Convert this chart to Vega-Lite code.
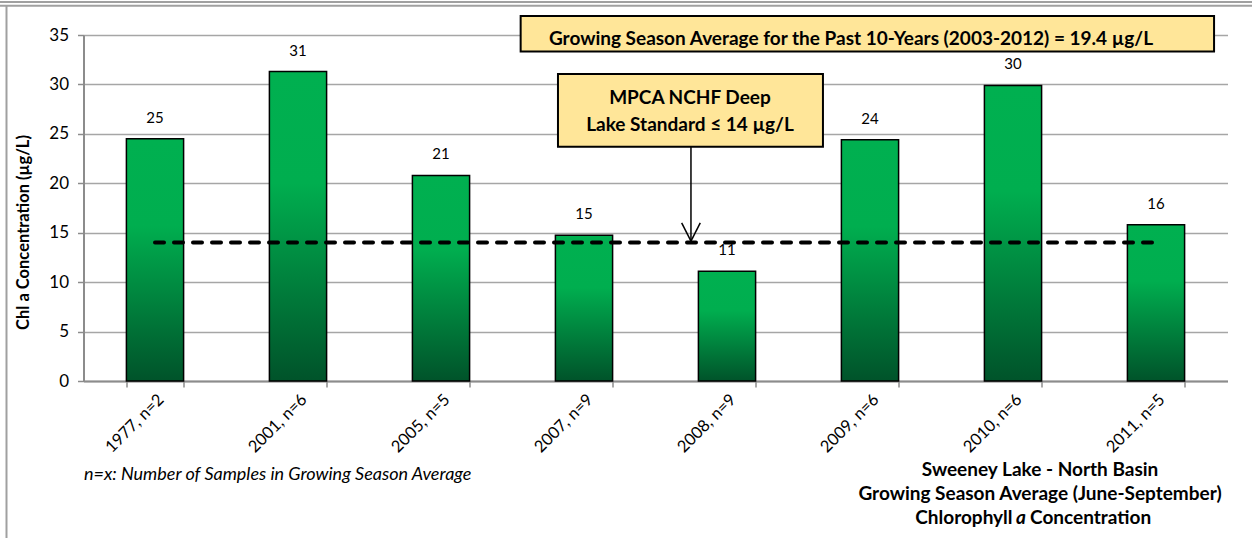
{
  "$schema": "https://vega.github.io/schema/vega-lite/v6.json",
  "width": 1144,
  "height": 346,
  "autosize": {"type": "none"},
  "padding": {"left": 83.5, "top": 35, "right": 24.5, "bottom": 157},
  "background": "white",
  "config": {"view": {"stroke": null}, "font": "Lato"},
  "resolve": {"scale": {"x": "independent", "y": "independent"}},
  "layer": [
    {
      "data": {"values": [
        {"cat": "1977, n=2", "value": 24.5, "label": "25"},
        {"cat": "2001, n=6", "value": 31.3, "label": "31"},
        {"cat": "2005, n=5", "value": 20.8, "label": "21"},
        {"cat": "2007, n=9", "value": 14.75, "label": "15"},
        {"cat": "2008, n=9", "value": 11.1, "label": "11"},
        {"cat": "2009, n=6", "value": 24.4, "label": "24"},
        {"cat": "2010, n=6", "value": 29.9, "label": "30"},
        {"cat": "2011, n=5", "value": 15.8, "label": "16"}
      ]},
      "encoding": {
        "x": {"field": "cat", "type": "nominal", "sort": null,
          "scale": {"paddingInner": 0.6, "paddingOuter": 0.3},
          "axis": {"title": null, "labelAngle": -45, "labelFont": "Lato", "labelFontSize": 16.5, "labelColor": "#000",
            "domainColor": "#8c8c8c", "domainWidth": 2, "tickColor": "#8c8c8c", "tickWidth": 1.5, "tickSize": 6,
            "tickBand": "extent", "labelPadding": 4}},
        "y": {"field": "value", "type": "quantitative",
          "scale": {"domain": [0, 35], "nice": false},
          "axis": {"values": [0, 5, 10, 15, 20, 25, 30, 35], "grid": true, "gridColor": "#a6a6a6", "gridWidth": 1.5,
            "domainColor": "#8c8c8c", "domainWidth": 2, "tickColor": "#8c8c8c", "tickWidth": 1.5, "tickSize": 6,
            "labelFont": "Lato", "labelFontSize": 17, "labelColor": "#000", "labelPadding": 9,
            "title": "Chl a Concentration (µg/L)", "titleFont": "Lato", "titleFontSize": 16.5, "titleFontWeight": "bold",
            "titleColor": "#000", "titleX": -52, "titleY": 197}}
      },
      "layer": [
        {"mark": {"type": "bar", "stroke": "#000", "strokeWidth": 1.5,
          "fill": {"gradient": "linear", "x1": 0, "y1": 0, "x2": 0, "y2": 1,
            "stops": [{"offset": 0, "color": "#00B050"}, {"offset": 0.36, "color": "#00AE4F"}, {"offset": 1, "color": "#00532A"}]}}},
        {"mark": {"type": "text", "dy": -21, "fontSize": 15, "font": "Lato", "color": "#000"},
          "encoding": {"text": {"field": "label"}}}
      ]
    },
    {
      "encoding": {
        "x": {"field": "x", "type": "quantitative", "scale": {"domain": [0, 8], "nice": false, "zero": false}, "axis": null},
        "y": {"field": "y", "type": "quantitative", "scale": {"domain": [0, 35], "nice": false, "zero": false}, "axis": null}
      },
      "layer": [
        {
          "data": {"values": [
            {"x": -0.6, "x2": 8.2, "y": 38.35, "y2": 38.35},
            {"x": -0.6, "x2": 8.2, "y": 37.95, "y2": 37.95},
            {"x": -0.5385, "x2": -0.5385, "y": 37.95, "y2": -16}
          ]},
          "mark": {"type": "rule", "color": "#a0a0a0", "strokeWidth": 2},
          "encoding": {"x2": {"field": "x2"}, "y2": {"field": "y2"}}
        },
        {
          "data": {"values": [{"x": 0.5, "x2": 7.5, "y": 14, "y2": 14}]},
          "mark": {"type": "rule", "color": "#000", "strokeWidth": 4, "strokeDash": [9, 10], "strokeCap": "round"},
          "encoding": {"x2": {"field": "x2"}, "y2": {"field": "y2"}}
        },
        {
          "data": {"values": [
            {"x": 4.248, "x2": 4.248, "y": 23.7, "y2": 14.15},
            {"x": 4.183, "x2": 4.248, "y": 16.0, "y2": 14.15},
            {"x": 4.313, "x2": 4.248, "y": 16.0, "y2": 14.15}
          ]},
          "mark": {"type": "rule", "color": "#000", "strokeWidth": 1.5},
          "encoding": {"x2": {"field": "x2"}, "y2": {"field": "y2"}}
        },
        {
          "data": {"values": [
            {"x": 3.057, "x2": 7.906, "y": 36.92, "y2": 33.33},
            {"x": 3.318, "x2": 5.171, "y": 31.05, "y2": 23.7}
          ]},
          "mark": {"type": "rect", "fill": "#FFE699", "stroke": "#000", "strokeWidth": 2},
          "encoding": {"x2": {"field": "x2"}, "y2": {"field": "y2"}}
        },
        {
          "data": {"values": [
            {"x": 5.367, "y": 34.6, "text": "Growing Season Average for the Past 10-Years (2003-2012) = 19.4 µg/L"},
            {"x": 4.241, "y": 28.63, "text": "MPCA NCHF Deep"},
            {"x": 4.241, "y": 25.9, "text": "Lake Standard ≤ 14 µg/L"}
          ]},
          "mark": {"type": "text", "font": "Lato", "fontSize": 19, "fontWeight": "bold", "color": "#000", "baseline": "middle"},
          "encoding": {"text": {"field": "text"}}
        },
        {
          "data": {"values": [{"x": 0.003, "y": -9.5, "text": "n=x: Number of Samples in Growing Season Average"}]},
          "mark": {"type": "text", "font": "Lato", "fontSize": 18, "fontStyle": "italic", "align": "left", "color": "#000", "baseline": "middle"},
          "encoding": {"text": {"field": "text"}}
        },
        {
          "data": {"values": [
            {"x": 6.689, "y": -9.0, "text": "Sweeney Lake - North Basin"},
            {"x": 6.689, "y": -11.43, "text": "Growing Season Average (June-September)"}
          ]},
          "mark": {"type": "text", "font": "Lato", "fontSize": 19, "fontWeight": "bold", "color": "#000", "baseline": "middle"},
          "encoding": {"text": {"field": "text"}}
        },
        {
          "data": {"values": [{"x": 6.497, "y": -13.86, "text": "Chlorophyll"}]},
          "mark": {"type": "text", "font": "Lato", "fontSize": 19, "fontWeight": "bold", "color": "#000", "baseline": "middle", "align": "right"},
          "encoding": {"text": {"field": "text"}}
        },
        {
          "data": {"values": [{"x": 6.556, "y": -13.86, "text": "a"}]},
          "mark": {"type": "text", "font": "Lato", "fontSize": 19, "fontWeight": "bold", "fontStyle": "italic", "color": "#000", "baseline": "middle", "align": "center"},
          "encoding": {"text": {"field": "text"}}
        },
        {
          "data": {"values": [{"x": 6.619, "y": -13.86, "text": "Concentration"}]},
          "mark": {"type": "text", "font": "Lato", "fontSize": 19, "fontWeight": "bold", "color": "#000", "baseline": "middle", "align": "left"},
          "encoding": {"text": {"field": "text"}}
        }
      ]
    }
  ]
}
